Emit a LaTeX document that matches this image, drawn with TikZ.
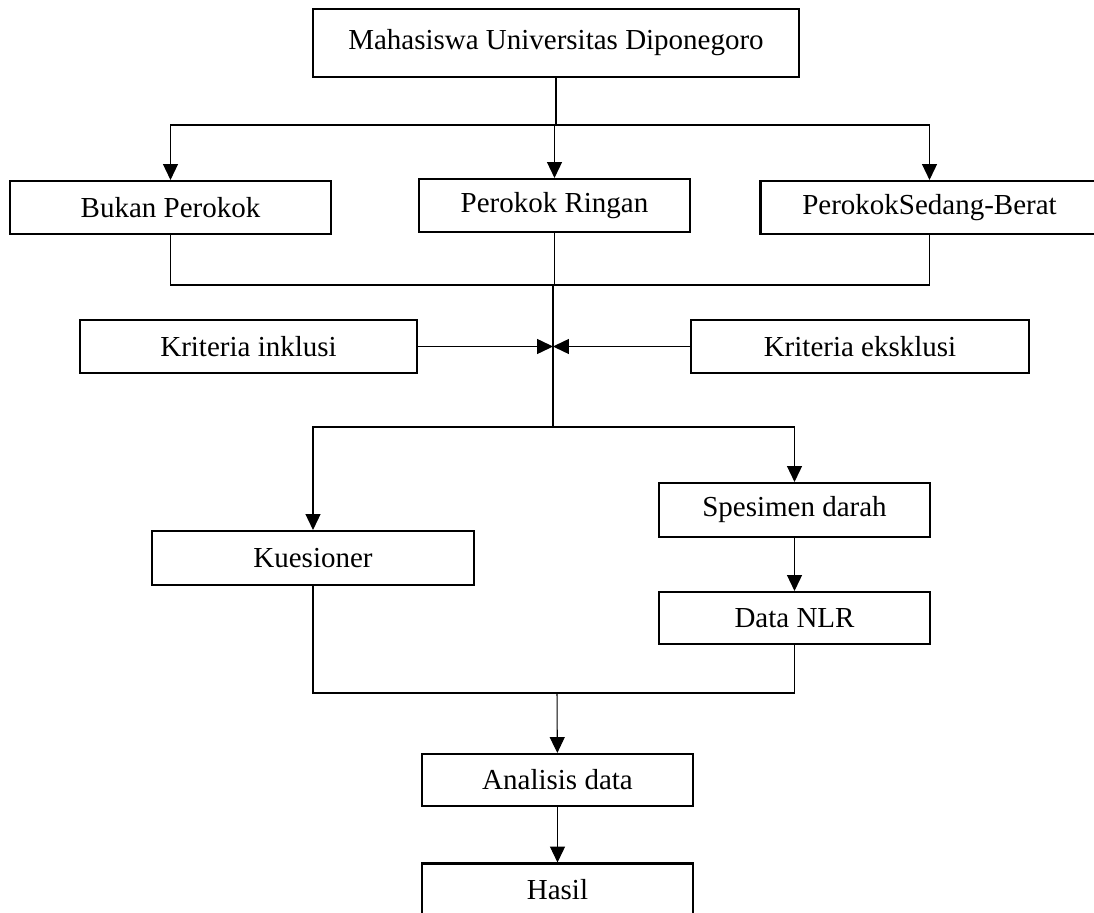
\documentclass[tikz,border=0pt]{standalone}
\usepackage{fontspec}
\setmainfont{Liberation Serif}
\usetikzlibrary{arrows.meta,positioning,calc}

\begin{document}
\begin{tikzpicture}[
    x=0.02cm, y=-0.02cm,
    box/.style={draw=black, line width=1.2pt, fill=white, minimum height=1.06cm, minimum width=5.42cm, inner sep=0pt, align=center, font=\fontsize{16.5}{19}\selectfont},
    arr/.style={-{Triangle[length=9pt,width=8.5pt]}, line width=0.6pt},
    ln/.style={line width=0.6pt}
  ]
    \clip (0,0) rectangle (1094,912);
    % boxes
    \node[box, minimum width=9.72cm, minimum height=1.36cm] (mhs) at (556,43) {Mahasiswa Universitas Diponegoro};
    \node[box, minimum width=6.42cm] (bukan) at (170.5,207.5) {Bukan Perokok};
    \node[box] (ringan) at (554.5,205.5) {Perokok Ringan};
    \node[box, minimum width=6.76cm] (sedang) at (929.5,207.5) {PerokokSedang-Berat};
    \node[box, minimum width=6.74cm] (inklusi) at (248.5,346.5) {Kriteria inklusi};
    \node[box, minimum width=6.76cm] (eksklusi) at (860,346.5) {Kriteria eksklusi};
    \node[box, minimum width=6.44cm, minimum height=1.08cm] (kues) at (313,558) {Kuesioner};
    \node[box, minimum height=1.08cm] (spesimen) at (794.5,510) {Spesimen darah};
    \node[box, minimum height=1.04cm] (nlr) at (794.5,618) {Data NLR};
    \node[box, minimum height=1.04cm] (analisis) at (557.5,780) {Analisis data};
    \node[box, minimum height=1.06cm] (hasil) at (557.5,890) {Hasil};
    % junctions
    \coordinate (split1) at (556,125);
    \coordinate (join1) at (553,285);
    \coordinate (split2) at (553,427);
    \coordinate (join2) at (557,693);
    % connectors
    \draw[ln] (mhs.south) -- (split1);
    \draw[arr] (split1) -| (bukan.north);
    \draw[arr] (split1) -- (ringan.north |- split1) -- (ringan.north);
    \draw[arr] (split1) -| (sedang.north);
    \draw[ln] (bukan.south) |- (join1);
    \draw[ln] (sedang.south) |- (join1);
    \draw[ln] (ringan.south) -- (ringan.south |- join1);
    \draw[ln] (join1) -- (split2);
    \draw[arr] (inklusi.east) -- (inklusi.east -| join1);
    \draw[arr] (eksklusi.west) -- (eksklusi.west -| join1);
    \draw[arr] (split2) -| (kues.north);
    \draw[arr] (split2) -| (spesimen.north);
    \draw[arr] (spesimen) -- (nlr);
    \draw[ln] (kues.south) |- (join2);
    \draw[ln] (nlr.south) |- (join2);
    \draw[arr] (join2) -- (analisis);
    \draw[arr] (analisis) -- (hasil);
\end{tikzpicture}
\end{document}
